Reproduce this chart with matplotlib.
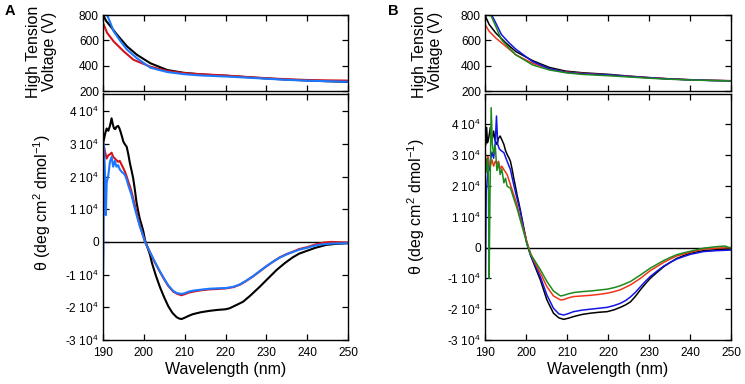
import numpy as np
import matplotlib
matplotlib.use("Agg")
import matplotlib.pyplot as plt

plt.rcParams['font.family'] = ['Liberation Sans', 'DejaVu Sans']
plt.rcParams['mathtext.fontset'] = 'custom'
plt.rcParams['mathtext.rm'] = 'Liberation Sans'
plt.rcParams['mathtext.it'] = 'Liberation Sans:italic'
plt.rcParams['mathtext.bf'] = 'Liberation Sans:bold'

SCALE = 1e4  # CD values below are given in units of 10^4

# ---------------- Panel A : high tension voltage ----------------
A_ht_black_wl = [190.0, 190.8, 191.8, 193.4, 195.9, 198.3, 201.6, 205.7, 209.7, 213.8, 220.3, 225, 230, 235, 240, 245, 250]
A_ht_black_v  = [800, 752, 712, 646, 552, 486, 419, 366, 344, 331, 320, 310, 299, 290, 283, 277, 272]
A_ht_red_wl = [190.0, 191.0, 192.6, 195.1, 197.5, 201.6, 205.7, 209.7, 213.8, 220.3, 225, 230, 235, 240, 245, 250]
A_ht_red_v  = [739, 659, 592, 512, 446, 392, 358, 342, 333, 322, 311, 301, 293, 287, 284, 282]
A_ht_blue_wl = [190.5, 191.0, 191.8, 192.6, 194.3, 195.9, 198.3, 201.6, 205.7, 209.7, 213.8, 220.3, 225, 230, 235, 240, 245, 250]
A_ht_blue_v  = [850, 800, 739, 672, 592, 526, 459, 384, 350, 333, 323, 314, 306, 297, 288, 282, 277, 273]

# ---------------- Panel A : CD ----------------
A_cd_black_wl = [190.0, 190.5, 190.9, 191.3, 191.7, 192.1, 192.4, 192.7, 193.0, 193.3, 193.7, 194.0, 194.3, 194.7,
                 195.0, 195.4, 195.8, 196.2, 196.6, 197.0, 197.4, 197.8, 198.2, 198.6, 199.0, 199.5, 199.9, 200.3,
                 200.7, 201.5, 202.0, 203.0, 204.0, 205.0, 206.0, 207.0, 208.0, 208.6, 209.2, 210.0, 211.0, 212.0,
                 214.0, 216.0, 218.0, 220.0, 221.0, 222.0, 223.0, 224.3, 226.0, 228.4, 230.0, 232.5, 234.5, 236.5,
                 238.0, 240.0, 242.0, 244.7, 247.0, 250.0]
A_cd_black = [3.00, 3.30, 3.47, 3.40, 3.55, 3.78, 3.60, 3.47, 3.45, 3.52, 3.55, 3.48, 3.37, 3.20,
              3.06, 2.98, 2.91, 2.68, 2.40, 2.18, 1.94, 1.60, 1.22, 0.95, 0.71, 0.50, 0.31, 0.05,
              -0.10, -0.39, -0.65, -1.05, -1.40, -1.70, -1.97, -2.17, -2.30, -2.34, -2.36, -2.32, -2.26, -2.21,
              -2.15, -2.11, -2.08, -2.06, -2.03, -1.97, -1.91, -1.83, -1.65, -1.37, -1.17, -0.86, -0.65, -0.47,
              -0.36, -0.27, -0.18, -0.09, -0.06, -0.04]

A_cd_red_wl = [190.0, 190.2, 190.5, 190.9, 191.3, 191.7, 192.1, 192.5, 192.9, 193.3, 193.7, 194.1, 194.6, 195.0,
               195.4, 195.8, 196.2, 196.6, 197.0, 197.4, 197.8, 198.2, 198.6, 199.0, 199.5, 200.3, 201.5, 202.5,
               203.9, 205.0, 206.0, 207.2, 208.2, 209.2, 210.0, 211.0, 212.1, 214.0, 216.2, 218.0, 220.2, 222.0,
               223.5, 225.0, 226.7, 228.4, 230.0, 231.7, 233.3, 235.0, 236.5, 238.0, 240.0, 242.0, 244.0, 246.0, 250.0]
A_cd_red = [2.10, 2.95, 2.75, 2.55, 2.65, 2.68, 2.73, 2.60, 2.55, 2.50, 2.45, 2.48, 2.35, 2.25,
            2.14, 2.00, 1.84, 1.70, 1.53, 1.33, 1.12, 0.92, 0.71, 0.52, 0.31, 0.00, -0.31, -0.58,
            -0.91, -1.15, -1.35, -1.52, -1.59, -1.63, -1.60, -1.55, -1.52, -1.48, -1.45, -1.44, -1.42, -1.38,
            -1.31, -1.20, -1.06, -0.90, -0.75, -0.60, -0.47, -0.37, -0.30, -0.22, -0.16, -0.08, -0.02, 0.00, -0.02]

A_cd_blue_wl = [190.0, 190.1, 190.2, 190.4, 190.5, 190.7, 190.9, 191.3, 191.7, 192.1, 192.5, 192.9, 193.3, 193.7,
                194.1, 194.6, 195.0, 195.4, 195.8, 196.2, 196.6, 197.0, 197.4, 197.8, 198.2, 198.6, 199.0, 199.5,
                200.3, 201.5, 202.5, 203.9, 205.0, 206.0, 207.2, 208.2, 209.2, 210.0, 211.0, 212.1, 214.0, 216.2,
                218.0, 220.2, 222.0, 223.5, 225.0, 226.7, 228.4, 230.0, 231.7, 233.3, 235.0, 236.5, 238.0, 240.0,
                242.0, 244.0, 246.0, 250.0]
A_cd_blue = [-1.10, -0.30, 3.00, 2.40, 2.00, 0.82, 1.80, 2.04, 2.45, 2.60, 2.30, 2.48, 2.30, 2.35,
             2.22, 2.14, 2.10, 2.04, 1.90, 1.73, 1.58, 1.43, 1.22, 1.02, 0.84, 0.66, 0.48, 0.31,
             0.00, -0.31, -0.56, -0.89, -1.13, -1.33, -1.50, -1.57, -1.59, -1.57, -1.52, -1.49, -1.46, -1.43,
             -1.42, -1.41, -1.37, -1.30, -1.19, -1.05, -0.89, -0.74, -0.60, -0.48, -0.38, -0.31, -0.24, -0.18,
             -0.11, -0.07, -0.05, -0.04]

# ---------------- Panel B : high tension voltage ----------------
B_ht_black_wl = [190.0, 191.0, 192.6, 195.1, 197.5, 201.6, 205.7, 209.7, 213.8, 220.3, 225, 230, 235, 240, 245, 250]
B_ht_black_v  = [798, 726, 659, 579, 512, 440, 386, 357, 344, 331, 318, 306, 296, 289, 284, 281]
B_ht_red_wl = [190.0, 191.0, 192.6, 195.1, 197.5, 201.6, 205.7, 209.7, 213.8, 220.3, 225, 230, 235, 240, 245, 250]
B_ht_red_v  = [726, 672, 619, 552, 486, 419, 374, 350, 339, 326, 316, 305, 296, 289, 284, 281]
B_ht_blue_wl = [191.3, 191.8, 192.6, 194.0, 195.9, 197.5, 201.6, 205.7, 209.7, 213.8, 220.3, 225, 230, 235, 240, 245, 250]
B_ht_blue_v  = [820, 790, 739, 646, 579, 531, 432, 376, 347, 336, 326, 315, 304, 295, 288, 283, 280]
B_ht_green_wl = [191.0, 191.4, 192.6, 194.0, 195.9, 197.5, 201.6, 205.7, 209.7, 213.8, 220.3, 225, 230, 235, 240, 245, 250]
B_ht_green_v  = [830, 800, 712, 606, 539, 486, 406, 366, 344, 331, 320, 311, 301, 293, 287, 283, 280]

# ---------------- Panel B : CD ----------------
B_cd_black_wl = [190.0, 190.2, 190.4, 190.6, 190.9, 191.3, 191.7, 192.1, 192.5, 192.9, 193.3, 193.7, 194.1, 194.6,
                 195.0, 195.4, 195.8, 196.2, 196.6, 197.0, 197.4, 197.8, 198.2, 198.6, 199.0, 199.4, 199.8, 200.2,
                 201.1, 202.0, 203.5, 205.1, 206.7, 208.0, 209.2, 210.4, 211.6, 213.7, 215.7, 217.8, 219.8, 221.5,
                 223.0, 224.3, 225.5, 226.7, 227.9, 229.1, 230.3, 232.0, 233.6, 235.2, 236.8, 238.5, 240.1, 243.3,
                 246.5, 250.0]
B_cd_black = [3.30, 3.35, 3.90, 3.40, 3.55, 3.90, 3.45, 3.78, 3.45, 3.35, 3.55, 3.62, 3.50, 3.35,
              3.15, 3.02, 2.92, 2.80, 2.55, 2.26, 2.00, 1.72, 1.48, 1.23, 0.95, 0.68, 0.42, 0.14,
              -0.24, -0.55, -1.05, -1.70, -2.13, -2.28, -2.33, -2.29, -2.24, -2.17, -2.13, -2.10, -2.08, -2.02,
              -1.94, -1.86, -1.76, -1.58, -1.37, -1.18, -1.00, -0.80, -0.62, -0.48, -0.35, -0.26, -0.18, -0.10,
              -0.07, -0.05]

B_cd_blue_wl = [190.0, 190.1, 190.3, 190.5, 190.8, 191.1, 191.3, 191.7, 192.1, 192.5, 192.8, 193.1, 193.5, 193.9,
                194.6, 195.4, 196.2, 197.0, 197.8, 198.6, 199.4, 200.2, 201.1, 202.0, 203.5, 205.1, 206.7, 208.0,
                209.2, 210.4, 211.6, 213.7, 215.7, 217.8, 219.8, 221.5, 223.0, 224.3, 225.5, 226.7, 227.9, 229.1,
                230.3, 232.0, 233.6, 235.2, 236.8, 238.5, 240.1, 243.3, 246.5, 250.0]
B_cd_blue = [-1.10, -1.05, 1.83, 2.10, 2.70, 2.50, 2.80, 3.10, 2.90, 3.40, 4.27, 3.35, 3.20, 3.15,
             3.08, 2.80, 2.53, 2.04, 1.60, 1.17, 0.63, 0.14, -0.24, -0.50, -0.95, -1.54, -1.97, -2.15,
             -2.19, -2.14, -2.08, -2.03, -2.00, -1.97, -1.94, -1.88, -1.81, -1.72, -1.60, -1.45, -1.27, -1.10,
             -0.94, -0.76, -0.60, -0.48, -0.37, -0.29, -0.22, -0.13, -0.10, -0.08]

B_cd_red_wl = [190.0, 190.2, 190.5, 190.7, 190.9, 191.3, 191.7, 192.1, 192.5, 192.9, 193.3, 193.7, 194.1, 194.6,
               195.4, 196.2, 197.0, 197.8, 198.6, 199.4, 200.2, 201.1, 202.0, 203.5, 205.1, 206.7, 208.4, 209.2,
               210.4, 211.6, 213.7, 215.7, 217.8, 219.8, 221.5, 223.0, 225.5, 227.9, 230.3, 232.0, 233.6, 235.2,
               236.8, 238.5, 240.1, 243.3, 246.5, 250.0]
B_cd_red = [3.00, 2.90, 2.70, 2.95, 2.75, 2.64, 2.85, 2.64, 2.80, 2.72, 2.80, 2.55, 2.64, 2.53,
            2.37, 2.04, 1.72, 1.39, 0.96, 0.58, 0.20, -0.18, -0.45, -0.83, -1.27, -1.57, -1.70, -1.69,
            -1.63, -1.59, -1.57, -1.55, -1.52, -1.48, -1.43, -1.37, -1.21, -1.00, -0.75, -0.61, -0.48, -0.37,
            -0.27, -0.21, -0.15, -0.05, -0.02, 0.00]

B_cd_green_wl = [190.0, 190.2, 190.4, 190.6, 190.8, 191.0, 191.2, 191.5, 191.8, 192.1, 192.5, 192.9, 193.3, 193.7,
                 194.1, 194.6, 195.0, 195.4, 196.2, 197.0, 197.8, 198.6, 199.4, 200.2, 201.1, 202.0, 203.5, 205.1,
                 206.7, 208.4, 209.2, 210.4, 211.6, 213.7, 215.7, 217.8, 219.8, 221.5, 223.0, 225.5, 227.9, 230.3,
                 232.0, 233.6, 235.2, 236.8, 238.5, 240.1, 243.3, 246.5, 248.5, 250.0]
B_cd_green = [2.50, 2.70, 2.45, 2.90, 2.60, -1.00, 1.50, 4.54, 3.35, 3.05, 3.30, 2.50, 2.75, 2.37,
              2.55, 2.10, 2.25, 1.99, 1.93, 1.60, 1.28, 0.90, 0.52, 0.14, -0.22, -0.40, -0.72, -1.10,
              -1.41, -1.57, -1.55, -1.50, -1.46, -1.43, -1.41, -1.38, -1.35, -1.30, -1.24, -1.10, -0.89, -0.67,
              -0.54, -0.42, -0.32, -0.23, -0.17, -0.12, -0.02, 0.03, 0.05, -0.02]

# ---------------- ticks ----------------
x_ticks = [190, 200, 210, 220, 230, 240, 250]
ht_ticks = [200, 400, 600, 800]
cd_ticks = [-3, -2, -1, 0, 1, 2, 3, 4]
cd_tick_labels = ["-3 $10^{4}$", "-2 $10^{4}$", "-1 $10^{4}$", "0",
                  "1 $10^{4}$", "2 $10^{4}$", "3 $10^{4}$", "4 $10^{4}$"]

colA = {'black': '#000000', 'red': '#d4141c', 'blue': '#1c78ff'}
colB = {'black': '#000000', 'red': '#f0361a', 'blue': '#1414e6', 'green': '#1d8a1d'}

W, H = 745, 384
fig = plt.figure(figsize=(W / 100, H / 100), dpi=100)

def fr(l, t, r, b):
    return [l / W, 1 - b / H, (r - l) / W, (b - t) / H]

def style(ax):
    ax.tick_params(direction='in', top=True, right=True, length=4, width=0.9, labelsize=8.6, pad=3)
    for s in ax.spines.values():
        s.set_linewidth(1.0)
    ax.set_xlim(190, 250)
    ax.set_xticks(x_ticks)

panels = [
    dict(left=103, right=348, letter='A', lx=5, ylim=(-3, 4.54), lw=1.5, col=colA,
         ht=[(A_ht_black_wl, A_ht_black_v, 'black'), (A_ht_red_wl, A_ht_red_v, 'red'), (A_ht_blue_wl, A_ht_blue_v, 'blue')],
         cd=[(A_cd_black_wl, A_cd_black, 'black'), (A_cd_red_wl, A_cd_red, 'red'), (A_cd_blue_wl, A_cd_blue, 'blue')],
         htlab=-0.188, cdlab=-0.205, cdy=0.556),
    dict(left=485, right=731, letter='B', lx=388, ylim=(-3, 5.0), lw=1.1, col=colB,
         ht=[(B_ht_black_wl, B_ht_black_v, 'black'), (B_ht_red_wl, B_ht_red_v, 'red'),
             (B_ht_blue_wl, B_ht_blue_v, 'blue'), (B_ht_green_wl, B_ht_green_v, 'green')],
         cd=[(B_cd_black_wl, B_cd_black, 'black'), (B_cd_blue_wl, B_cd_blue, 'blue'),
             (B_cd_red_wl, B_cd_red, 'red'), (B_cd_green_wl, B_cd_green, 'green')],
         htlab=-0.171, cdlab=-0.236, cdy=0.54),
]

for p in panels:
    axt = fig.add_axes(fr(p['left'], 15, p['right'], 91))
    axb = fig.add_axes(fr(p['left'], 93.5, p['right'], 340))
    style(axt)
    style(axb)
    for wl, v, c in p['ht']:
        axt.plot(wl, v, color=p['col'][c], lw=p['lw'])
    axt.set_ylim(200, 800)
    axt.set_yticks(ht_ticks)
    axt.tick_params(labelbottom=False)
    axt.set_ylabel("High Tension\nVoltage (V)", fontsize=11.5, linespacing=1.1)
    axt.yaxis.set_label_coords(p['htlab'], 0.52)

    axb.axhline(0, color='black', lw=1.0, zorder=1)
    for wl, v, c in p['cd']:
        axb.plot(wl, np.array(v) * SCALE, color=p['col'][c], lw=p['lw'], zorder=2)
    axb.set_ylim(p['ylim'][0] * SCALE, p['ylim'][1] * SCALE)
    axb.set_yticks(np.array(cd_ticks) * SCALE)
    axb.set_yticklabels(cd_tick_labels)
    axb.tick_params(axis='x', pad=5)
    axb.set_xlabel("Wavelength (nm)", fontsize=11.5, labelpad=2)
    axb.set_ylabel(r"θ (deg cm$^{2}$ dmol$^{-1}$)", fontsize=11.5)
    axb.yaxis.set_label_coords(p['cdlab'], p['cdy'])

    fig.text(p['lx'] / W, 1 - 4 / H, p['letter'], fontsize=10.5, fontweight='bold', va='top', ha='left')

fig.savefig("out.png", dpi=100)
